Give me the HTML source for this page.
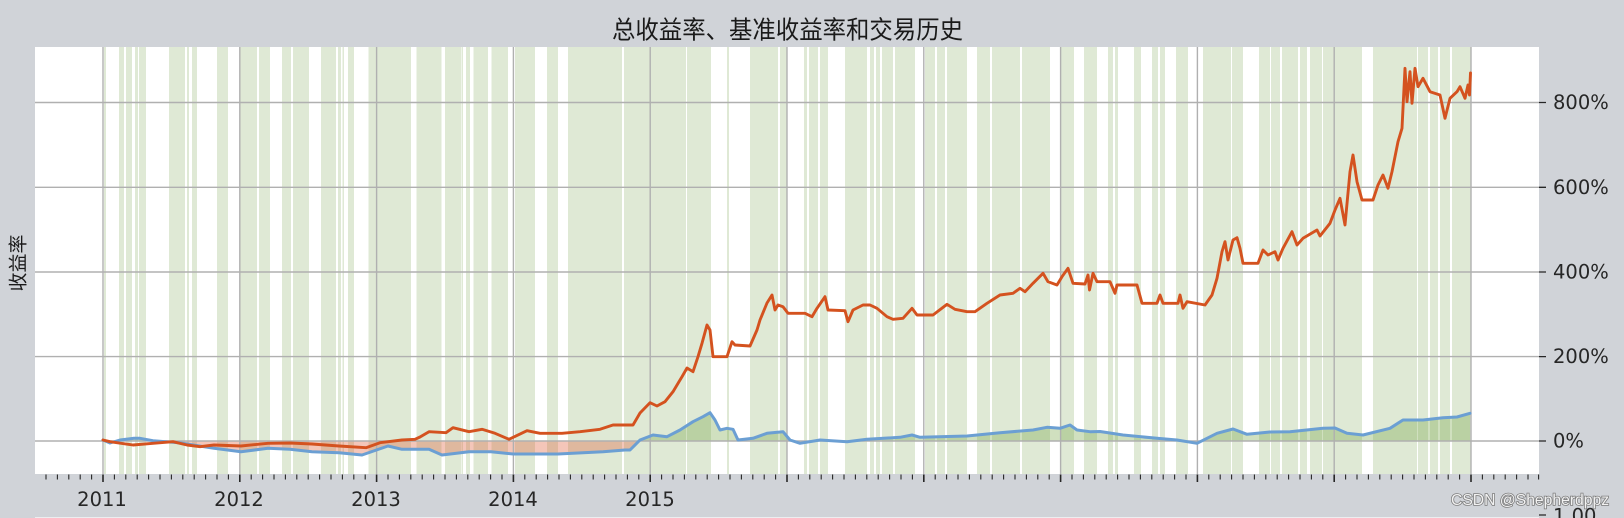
<!DOCTYPE html>
<html>
<head>
<meta charset="utf-8">
<style>
  html,body{margin:0;padding:0;background:#d0d3d8;}
  body{width:1624px;height:518px;overflow:hidden;}
  svg{display:block;}
  .tk{font-family:"DejaVu Sans","Liberation Sans",sans-serif;font-size:19.5px;fill:#262626;}
</style>
</head>
<body>
<svg width="1624" height="518" viewBox="0 0 1624 518" xmlns="http://www.w3.org/2000/svg">
  <defs>
    <clipPath id="plot"><rect x="35" y="47" width="1504" height="427"/></clipPath>
    <clipPath id="above"><rect x="35" y="47" width="1504" height="394"/></clipPath>
    <clipPath id="below"><rect x="35" y="441" width="1504" height="33"/></clipPath>
  </defs>

  <rect x="0" y="0" width="1624" height="518" fill="#d0d3d8"/>

  <!-- title -->
  <text x="612" y="28.5" dominant-baseline="central" textLength="351" lengthAdjust="spacingAndGlyphs"
        style="font-family:'Noto Sans CJK SC','WenQuanYi Zen Hei',sans-serif;font-size:25px;fill:#1a1a1a;">总收益率、基准收益率和交易历史</text>

  <!-- y label -->
  <text x="0" y="0" transform="translate(17,263) rotate(-90)" text-anchor="middle" dominant-baseline="central"
        textLength="57" lengthAdjust="spacingAndGlyphs"
        style="font-family:'Noto Sans CJK SC','WenQuanYi Zen Hei',sans-serif;font-size:19px;fill:#1a1a1a;">收益率</text>

  <rect x="35" y="47" width="1504" height="427" fill="#ffffff"/>

  <g clip-path="url(#plot)">
    <path fill="#dfe9d5" d="
M104 47H106V474H104Z M119 47H124V474H119Z M126 47H132V474H126Z M135 47H138V474H135Z M139 47H146V474H139Z
M169 47H185V474H169Z M187 47H189V474H187Z M192 47H197V474H192Z M217 47H228V474H217Z M240.5 47H257V474H240.5Z
M259 47H270V474H259Z M282 47H291V474H282Z M293 47H309V474H293Z M321 47H336V474H321Z M338 47H341V474H338Z
M342.5 47H344V474H342.5Z M348 47H354V474H348Z M368.5 47H411V474H368.5Z M416.5 47H441.5V474H416.5Z
M445 47H461.5V474H445Z M462 47H463V474H462Z M466 47H470V474H466Z M473.5 47H488V474H473.5Z M491.5 47H508V474H491.5Z
M515 47H535V474H515Z M547 47H558V474H547Z M568 47H622V474H568Z M624 47H686V474H624Z M687 47H711V474H687Z
M727 47H729V474H727Z M750 47H778V474H750Z M780 47H787V474H780Z M804 47H807V474H804Z M809 47H818V474H809Z
M820 47H828V474H820Z M845 47H867V474H845Z M870 47H874V474H870Z M876 47H880V474H876Z M882 47H893V474H882Z
M895 47H915V474H895Z M925 47H935V474H925Z M937 47H945V474H937Z M947 47H967V474H947Z M977 47H990V474H977Z
M992 47H1020V474H992Z M1022 47H1050V474H1022Z M1061 47H1074V474H1061Z M1084 47H1097V474H1084Z
M1108 47H1113V474H1108Z M1115 47H1118V474H1115Z M1134 47H1141V474H1134Z M1152 47H1158V474H1152Z
M1160 47H1165V474H1160Z M1176 47H1188V474H1176Z M1203 47H1231V474H1203Z M1232 47H1243V474H1232Z
M1259 47H1270V474H1259Z M1271 47H1280V474H1271Z M1282 47H1298V474H1282Z M1300 47H1307V474H1300Z
M1310 47H1322V474H1310Z M1323 47H1362V474H1323Z M1373 47H1417V474H1373Z M1418 47H1428V474H1418Z
M1430 47H1438V474H1430Z M1440 47H1450V474H1440Z M1452 47H1471V474H1452Z"/>

    <polygon clip-path="url(#above)" fill="#6fa23e" fill-opacity="0.33" points="
103,440 110,443 120,440 134,438.3 140,438.3 153,440.7 179,442.7 187,444 214,448.3 241,451.7 268,448.3 290,449.3
312,451.7 339,452.7 362,455 388,446 402,449.3 429,449.3 442,455 469,451.7 491,451.7 513,454 558,454 603,451.7
625,450 630,450 640,440 653,435 667,436.7 680,430 693,421.7 703,416.7 710,412.7 715,420 720,430 727,428.3
733,429.3 738,440 753,438.3 767,433.3 783,431.7 790,440 800,443.3 820,440 847,441.7 867,439.3 900,437.3
912,435 920,437.3 967,436 1000,432.7 1033,430 1047,427.3 1060,428.3 1070,425 1077,430 1090,431.7 1100,431.5
1123,435 1157,438.3 1177,440 1197,443.3 1217,433.3 1233,429 1247,434.3 1270,432 1290,431.7 1323,428.3
1335,428 1347,433.3 1363,435 1390,428.3 1403,420 1423,420 1443,417.7 1457,417 1470,413.3 1470,441 103,441"/>
    <polygon clip-path="url(#below)" fill="#e0603c" fill-opacity="0.36" points="
103,440 110,443 120,440 134,438.3 140,438.3 153,440.7 179,442.7 187,444 214,448.3 241,451.7 268,448.3 290,449.3
312,451.7 339,452.7 362,455 388,446 402,449.3 429,449.3 442,455 469,451.7 491,451.7 513,454 558,454 603,451.7
625,450 630,450 640,440 653,435 667,436.7 680,430 693,421.7 703,416.7 710,412.7 715,420 720,430 727,428.3
733,429.3 738,440 753,438.3 767,433.3 783,431.7 790,440 800,443.3 820,440 847,441.7 867,439.3 900,437.3
912,435 920,437.3 967,436 1000,432.7 1033,430 1047,427.3 1060,428.3 1070,425 1077,430 1090,431.7 1100,431.5
1123,435 1157,438.3 1177,440 1197,443.3 1217,433.3 1233,429 1247,434.3 1270,432 1290,431.7 1323,428.3
1335,428 1347,433.3 1363,435 1390,428.3 1403,420 1423,420 1443,417.7 1457,417 1470,413.3 1470,441 103,441"/>

    <g stroke="#b0b0b0" stroke-width="1.4" fill="none">
      <path d="M35 441H1539 M35 356.6H1539 M35 272H1539 M35 187.3H1539 M35 102.5H1539"/>
      <path d="M103 47V474 M239.8 47V474 M376.6 47V474 M513.4 47V474 M650.2 47V474 M787 47V474 M923.8 47V474 M1060.6 47V474 M1197.4 47V474 M1334.2 47V474 M1471 47V474"/>
    </g>

    <polyline fill="none" stroke="#6b9fd3" stroke-width="3" stroke-linejoin="round" stroke-linecap="round" points="
103,440 110,443 120,440 134,438.3 140,438.3 153,440.7 179,442.7 187,444 214,448.3 241,451.7 268,448.3 290,449.3
312,451.7 339,452.7 362,455 388,446 402,449.3 429,449.3 442,455 469,451.7 491,451.7 513,454 558,454 603,451.7
625,450 630,450 640,440 653,435 667,436.7 680,430 693,421.7 703,416.7 710,412.7 715,420 720,430 727,428.3
733,429.3 738,440 753,438.3 767,433.3 783,431.7 790,440 800,443.3 820,440 847,441.7 867,439.3 900,437.3
912,435 920,437.3 967,436 1000,432.7 1033,430 1047,427.3 1060,428.3 1070,425 1077,430 1090,431.7 1100,431.5
1123,435 1157,438.3 1177,440 1197,443.3 1217,433.3 1233,429 1247,434.3 1270,432 1290,431.7 1323,428.3
1335,428 1347,433.3 1363,435 1390,428.3 1403,420 1423,420 1443,417.7 1457,417 1470,413.3"/>

    <polyline fill="none" stroke="#d4521f" stroke-width="2.9" stroke-linejoin="round" stroke-linecap="round" points="
103,440 110,441.7 133,445 153,443.3 173,441.7 187,445 200,446.7 214,445 241,446 268,443.3 290,443 312,444
339,446 366,447.7 380,442.7 402,440 415,439.3 420,437 429,431.7 446,432.7 453,427.7 469,431.7 482,429.3
495,433.3 509,439.3 527,430.7 540,433.3 562,433.3 580,431.7 600,429.3 613,425 633,425 640,413 650,402.7
657,406 665,401.7 673,391.7 682,376.7 687,368 693,371.7 698,356.7 702,343.3 707,325 710,330 713,356.7
727,356.7 732,341.7 735,345 750,346 757,330 760,320 767,303 772,295 775,310 778,305 783,306.7 788,313.3
805,313.3 812,316.7 817,308.3 825,296.7 828,310 845,310.7 848,321.7 853,310 863,305 870,305 877,308.3
887,316.7 893,319.3 903,318.3 912,308.3 917,315 933,315 947,304.3 955,309.3 967,311.7 975,311.7 987,303.3
1000,295 1013,293.3 1020,288.3 1025,291.7 1033,283.3 1043,273.3 1048,281.7 1057,285 1062,276.7 1068,268.3
1073,283.3 1085,284 1088,275 1089.5,290 1093,273.3 1097,281.7 1110,281.7 1115,293.3 1117,285 1137,285
1142,303.3 1157,303.3 1160,295 1163,303.3 1178,303.3 1180,295 1183,308.3 1187,301.7 1205,305 1212,295
1217,278.3 1222,251.7 1225,241.7 1228,260 1233,240 1237,237.7 1240,248.3 1243,263.3 1258,263.3 1263,250
1268,255 1275,251.7 1278,260 1283,248.3 1292,231.7 1297,245 1303,238.3 1317,230 1320,236 1330,223.3
1335,210 1340,198.3 1345,225 1350,171.7 1353,155 1357,181.7 1362,200 1373,200 1378,185 1383,175 1388,188.3
1392,171.7 1398,141.7 1402,128.3 1405,68.3 1407,101.7 1410,71.7 1412,103.3 1415,68.3 1418,86.7 1423,78.3
1430,91.7 1440,95 1445,118.3 1450,98.3 1457,91.7 1460,86.7 1465,98.3 1468,85 1469.5,95 1470.5,73"/>
  </g>

  <g stroke="#262626" stroke-width="1.3">
    <path d="M1539 441H1546 M1539 356.6H1546 M1539 272H1546 M1539 187.3H1546 M1539 102.5H1546 M1539 515H1546"/>
  </g>
  <g class="tk">
    <text x="1553" y="441" dominant-baseline="central">0%</text>
    <text x="1553" y="356.6" dominant-baseline="central">200%</text>
    <text x="1553" y="272" dominant-baseline="central">400%</text>
    <text x="1553" y="187.3" dominant-baseline="central">600%</text>
    <text x="1553" y="102.5" dominant-baseline="central">800%</text>
    <text x="1553" y="522.5">1.00</text>
  </g>

  <g class="tk" text-anchor="middle">
    <text x="102" y="506">2011</text>
    <text x="239" y="506">2012</text>
    <text x="376" y="506">2013</text>
    <text x="513" y="506">2014</text>
    <text x="650" y="506">2015</text>
  </g>

  <rect x="35" y="517" width="1504" height="1" fill="#eceef0"/>

  <text x="1451" y="505" style="font-family:'Liberation Sans',sans-serif;font-size:15.7px;fill:#f2f2f2;stroke:#7c7c7c;stroke-width:1.6px;paint-order:stroke;">CSDN @Shepherdppz</text>

  <path stroke="#262626" stroke-width="1.1" fill="none" d="
M46 474.5V479.5 M57.4 474.5V479.5 M68.8 474.5V479.5 M80.2 474.5V479.5 M91.6 474.5V479.5
M114.4 474.5V479.5 M125.8 474.5V479.5 M137.2 474.5V479.5 M148.6 474.5V479.5 M160 474.5V479.5 M171.4 474.5V479.5 M182.8 474.5V479.5 M194.2 474.5V479.5 M205.6 474.5V479.5 M217 474.5V479.5 M228.4 474.5V479.5
M251.2 474.5V479.5 M262.6 474.5V479.5 M274 474.5V479.5 M285.4 474.5V479.5 M296.8 474.5V479.5 M308.2 474.5V479.5 M319.6 474.5V479.5 M331 474.5V479.5 M342.4 474.5V479.5 M353.8 474.5V479.5 M365.2 474.5V479.5
M388 474.5V479.5 M399.4 474.5V479.5 M410.8 474.5V479.5 M422.2 474.5V479.5 M433.6 474.5V479.5 M445 474.5V479.5 M456.4 474.5V479.5 M467.8 474.5V479.5 M479.2 474.5V479.5 M490.6 474.5V479.5 M502 474.5V479.5
M524.8 474.5V479.5 M536.2 474.5V479.5 M547.6 474.5V479.5 M559 474.5V479.5 M570.4 474.5V479.5 M581.8 474.5V479.5 M593.2 474.5V479.5 M604.6 474.5V479.5 M616 474.5V479.5 M627.4 474.5V479.5 M638.8 474.5V479.5
M661.6 474.5V479.5 M673 474.5V479.5 M684.4 474.5V479.5 M695.8 474.5V479.5 M707.2 474.5V479.5 M718.6 474.5V479.5 M730 474.5V479.5 M741.4 474.5V479.5 M752.8 474.5V479.5 M764.2 474.5V479.5 M775.6 474.5V479.5
M798.4 474.5V479.5 M809.8 474.5V479.5 M821.2 474.5V479.5 M832.6 474.5V479.5 M844 474.5V479.5 M855.4 474.5V479.5 M866.8 474.5V479.5 M878.2 474.5V479.5 M889.6 474.5V479.5 M901 474.5V479.5 M912.4 474.5V479.5
M935.2 474.5V479.5 M946.6 474.5V479.5 M958 474.5V479.5 M969.4 474.5V479.5 M980.8 474.5V479.5 M992.2 474.5V479.5 M1003.6 474.5V479.5 M1015 474.5V479.5 M1026.4 474.5V479.5 M1037.8 474.5V479.5 M1049.2 474.5V479.5
M1072 474.5V479.5 M1083.4 474.5V479.5 M1094.8 474.5V479.5 M1106.2 474.5V479.5 M1117.6 474.5V479.5 M1129 474.5V479.5 M1140.4 474.5V479.5 M1151.8 474.5V479.5 M1163.2 474.5V479.5 M1174.6 474.5V479.5 M1186 474.5V479.5
M1208.8 474.5V479.5 M1220.2 474.5V479.5 M1231.6 474.5V479.5 M1243 474.5V479.5 M1254.4 474.5V479.5 M1265.8 474.5V479.5 M1277.2 474.5V479.5 M1288.6 474.5V479.5 M1300 474.5V479.5 M1311.4 474.5V479.5 M1322.8 474.5V479.5
M1345.6 474.5V479.5 M1357 474.5V479.5 M1368.4 474.5V479.5 M1379.8 474.5V479.5 M1391.2 474.5V479.5 M1402.6 474.5V479.5 M1414 474.5V479.5 M1425.4 474.5V479.5 M1436.8 474.5V479.5 M1448.2 474.5V479.5 M1459.6 474.5V479.5
M1482.4 474.5V479.5 M1493.8 474.5V479.5 M1505.2 474.5V479.5 M1516.6 474.5V479.5 M1528 474.5V479.5 M1538.6 474.5V479.5"/>
  <path stroke="#262626" stroke-width="1.6" fill="none" d="
M103 474.5V482 M239.8 474.5V482 M376.6 474.5V482 M513.4 474.5V482 M650.2 474.5V482 M787 474.5V482
M923.8 474.5V482 M1060.6 474.5V482 M1197.4 474.5V482 M1334.2 474.5V482 M1471 474.5V482"/>
</svg>
</body>
</html>
